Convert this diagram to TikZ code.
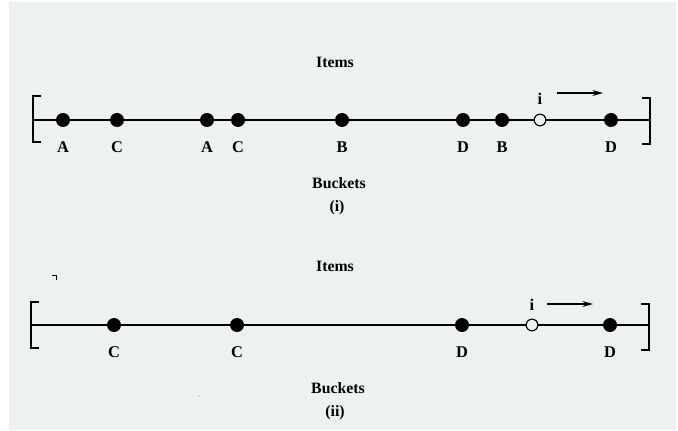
\documentclass[tikz,border=0pt]{standalone}
\usepackage{fontspec}
\setmainfont{Liberation Serif}
\usetikzlibrary{arrows.meta}
\definecolor{paper}{RGB}{238,242,239}

\tikzset{
  full/.style={circle,fill=black,inner sep=0pt,minimum size=0.42cm},
  hollow/.style={circle,draw=black,fill=paper,line width=1pt,inner sep=0pt,minimum size=0.35cm},
  letter/.style={font=\fontsize{14}{16}\selectfont\bfseries,inner sep=0pt},
  caption/.style={font=\fontsize{13.5}{16}\selectfont\bfseries,inner sep=0pt},
  bracket/.style={line width=1.4pt},
  scan/.style={-{Stealth[length=9pt,width=5pt]},line width=1pt},
}

\begin{document}
\begin{tikzpicture}[x=0.03cm,y=-0.03cm,line width=1.1pt]
\useasboundingbox (0,0) rectangle (678,431);
\fill[paper] (9,2) rectangle (676,430);

% (i)
\node[caption] (items1) at (335,62) {Items};
\coordinate (lb1) at (33,120);
\coordinate (rb1) at (650,120);
\draw (lb1) -- (rb1);
\draw[bracket] (41,96) -- (33,96) -- (33,142) -- (41,142);
\draw[bracket] (642,98) -- (650,98) -- (650,144) -- (642,144);
\foreach \x/\t [count=\k] in {63/A,117/C,207/A,238/C,342/B,463/D,502/B,611/D} {
  \node[full] (d1\k) at (\x,120) {};
  \node[letter] (t1\k) at (\x,147) {\t};
}
\node[hollow] (cur1) at (540,120) {};
\node[letter] (i1) at (540,99) {i};
\coordinate (go1) at (557,93);
\coordinate (to1) at (603,93);
\draw[scan] (go1) -- (to1);
\node[caption] (buckets1) at (339,183) {Buckets};
\node[caption] (tag1) at (337,208) {(i)};

% (ii)
\draw[line width=0.8pt] (52,275) -- (56,275) -- (56,280);
\node[caption] (items2) at (335,266) {Items};
\coordinate (lb2) at (31,325);
\coordinate (rb2) at (649,325);
\draw (lb2) -- (rb2);
\draw[bracket] (39,302) -- (31,302) -- (31,348) -- (39,348);
\draw[bracket] (641,304) -- (649,304) -- (649,350) -- (641,350);
\foreach \x/\t [count=\k] in {114/C,237/C,462/D,610/D} {
  \node[full] (d2\k) at (\x,325) {};
  \node[letter] (t2\k) at (\x,352) {\t};
}
\node[hollow] (cur2) at (532,325) {};
\node[letter] (i2) at (532,305) {i};
\coordinate (go2) at (547,304);
\coordinate (to2) at (593,304);
\draw[scan] (go2) -- (to2);
\fill[gray] (199,396) circle (0.7);
\node[caption] (buckets2) at (338,388) {Buckets};
\node[caption] (tag2) at (335,413) {(ii)};
\end{tikzpicture}
\end{document}
